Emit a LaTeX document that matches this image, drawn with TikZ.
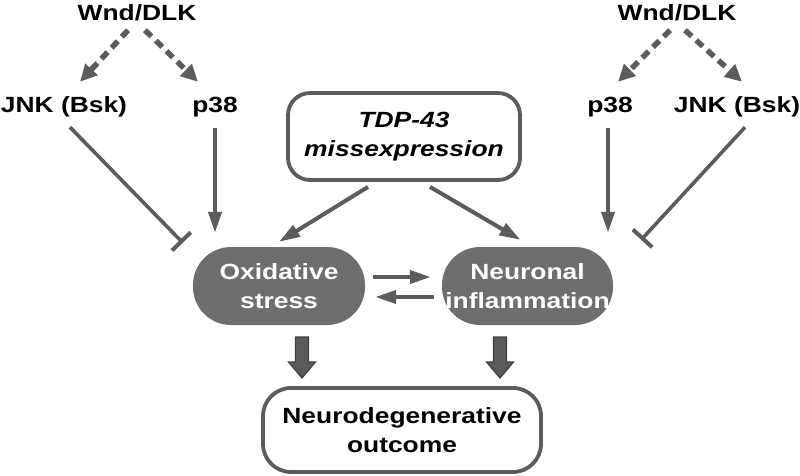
\documentclass[tikz,border=0pt]{standalone}
\usepackage{fontspec}
\setmainfont{Liberation Sans}[FakeStretch=1.2]
\usepackage{xcolor}
\usepackage{tikz}
\usetikzlibrary{arrows.meta,positioning,calc}

\definecolor{linegray}{HTML}{5C5C5C}
\definecolor{boxgray}{HTML}{6E6E6E}
\definecolor{fatgray}{HTML}{5A5A5A}

\begin{document}
\begin{tikzpicture}[x=1pt,y=-1pt,
  font=\fontsize{22}{29}\selectfont\bfseries,
  lbl/.style={inner sep=0pt,text height=16pt,text depth=0pt},
  box/.style={draw=linegray,line width=3.8pt,fill=white,align=center},
  gbox/.style={fill=boxgray,text=white,align=center,minimum height=78pt,rounded corners=38pt},
  act/.style={linegray,line width=4pt,-{Triangle[length=21pt,width=13pt]}},
  dasharrow/.style={linegray,line width=5.5pt,dash pattern=on 9pt off 6pt,-{Triangle[length=17pt,width=16pt]}},
  inhib/.style={linegray,line width=3.6pt,-{Bar[width=26pt,line width=4pt]}},
  fat/.style={fill=fatgray,draw=black!75,line width=1.2pt}]
\useasboundingbox (0,0) rectangle (800,476);

% left branch
\node[lbl] (wndL) at (137,13) {Wnd/DLK};
\node[lbl] (jnkL) at (64,105) {JNK (Bsk)};
\node[lbl] (p38L) at (215,105) {p38};
% right branch
\node[lbl] (wndR) at (677,13) {Wnd/DLK};
\node[lbl] (p38R) at (610,105) {p38};
\node[lbl] (jnkR) at (737,105) {JNK (Bsk)};

% boxes
\node[box,minimum width=232pt,minimum height=87pt,rounded corners=22pt] (tdp) at (404,136.5) {\itshape TDP-43\\\itshape missexpression};
\node[gbox,minimum width=172pt] (ox) at (279,286) {Oxidative\\stress};
\node[gbox,minimum width=169pt] (neu) at (527.5,286) {Neuronal\\inflammation};
\node[box,minimum width=278pt,minimum height=84pt,rounded corners=28pt] (out) at (402,430) {Neurodegenerative\\outcome};

% kinase cascades
\draw[dasharrow] ($(wndL.south)+(-9,9)$) -- ($(jnkL.north)+(16,-15)$);
\draw[dasharrow] ($(wndL.south)+(8,9)$) -- ($(p38L.north)+(-17,-15)$);
\draw[dasharrow] ($(wndR.south)+(-7,9)$) -- ($(p38R.north)+(8,-15)$);
\draw[dasharrow] ($(wndR.south)+(8,9)$) -- ($(jnkR.north)+(5,-15)$);
\draw[act] ($(p38L.south)+(0,15)$) -- ($(ox.north)+(-64,-14)$);
\draw[act] ($(p38R.south)+(-2,15)$) -- ($(neu.north)+(80.5,-14)$);
\draw[inhib] ($(jnkL.south)+(6,14)$) -- ($(ox.north west)+(-10,-4)$);
\draw[inhib] ($(jnkR.south)+(8,14)$) -- ($(neu.north east)+(28,-7)$);

% TDP-43
\draw[act] ($(tdp.south)+(-36,5)$) -- ($(ox.north)+(0,-5)$);
\draw[act] ($(tdp.south)+(26,5)$) -- ($(neu.north)+(-7,-7)$);

% feedback
\draw[act] ($(ox.east)+(8,-9)$) -- ($(neu.west)+(-11,-9)$);
\draw[act] ($(neu.west)+(-8,11)$) -- ($(ox.east)+(10,11)$);

% outcome
\foreach \x in {302,500}
  \draw[fat] (\x-6.5,337) -- (\x+6.5,337) -- (\x+6.5,362) -- (\x+13.5,362) -- (\x,378) -- (\x-13.5,362) -- (\x-6.5,362) -- cycle;
\end{tikzpicture}
\end{document}
